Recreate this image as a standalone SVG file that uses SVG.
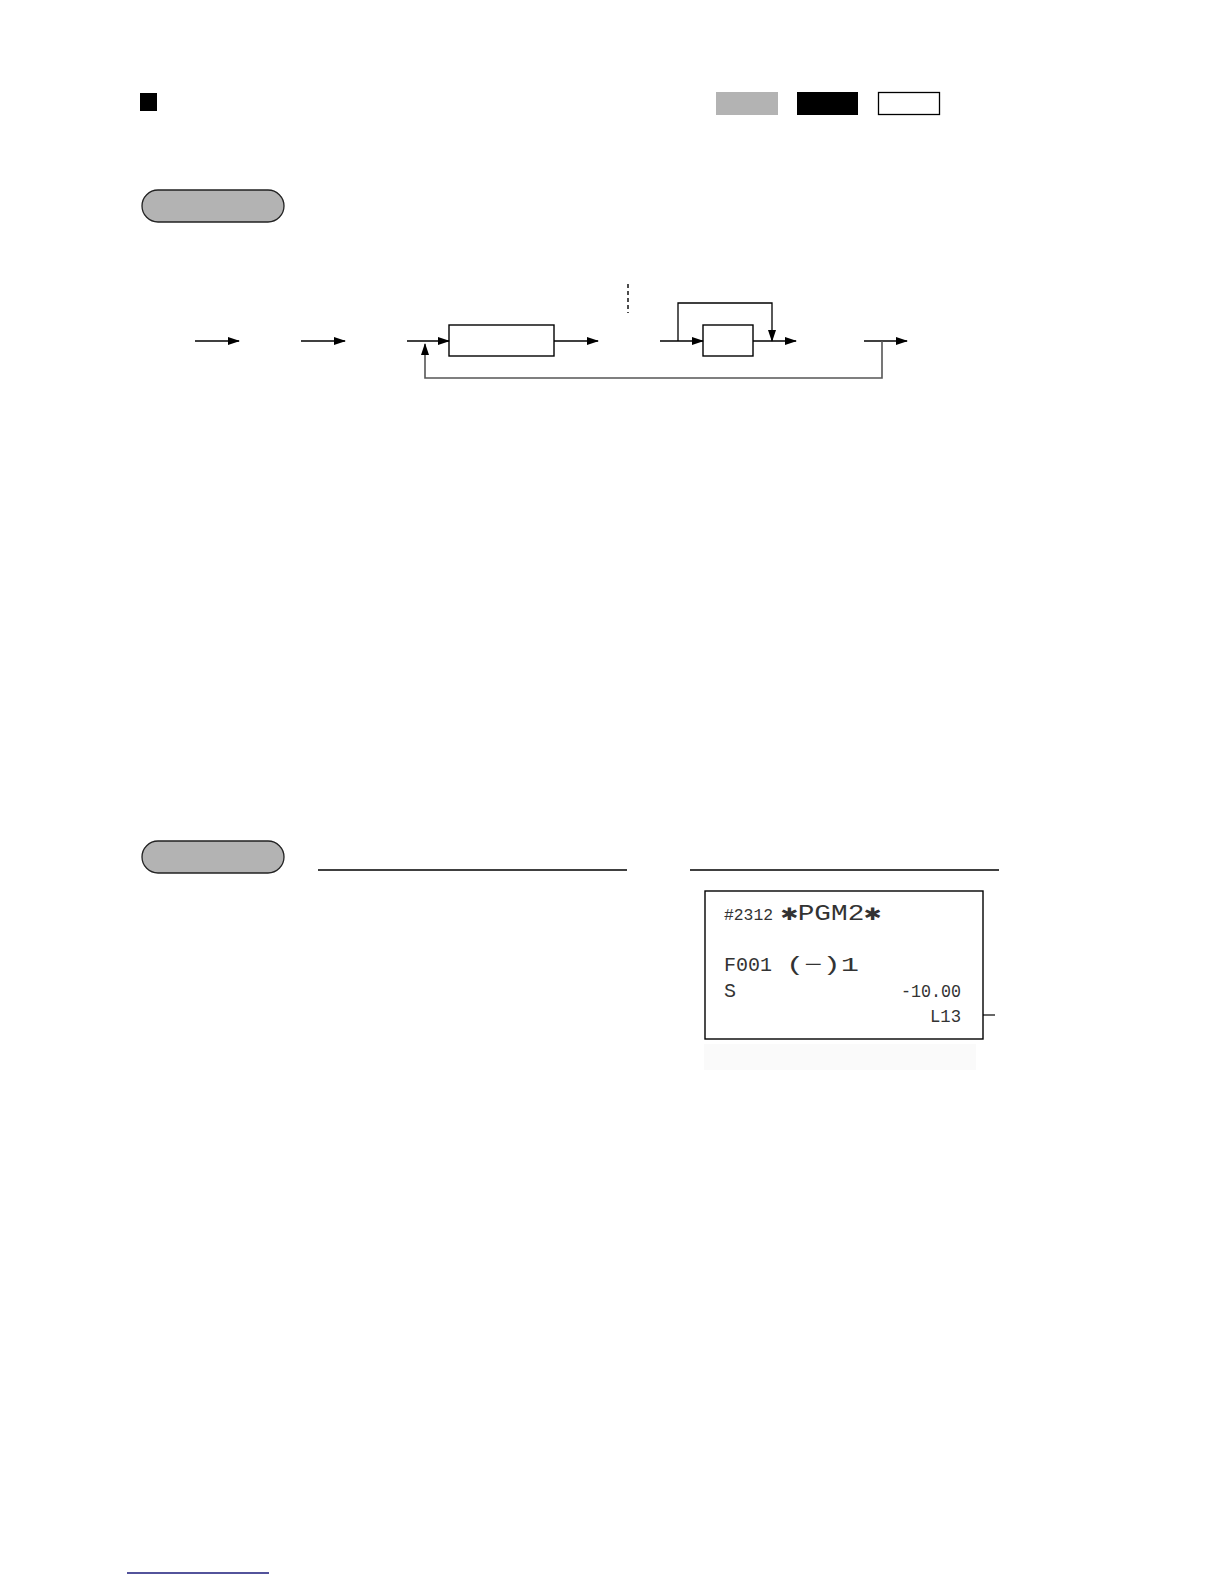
<svg xmlns="http://www.w3.org/2000/svg" width="1224" height="1584" viewBox="0 0 1224 1584">
<style>
.ln{stroke:#000;stroke-width:1.3;fill:none}
.fb{stroke:#555;stroke-width:1.6;fill:none}
.box{fill:#fff;stroke:#000;stroke-width:1.4}
.pill{fill:#b3b3b3;stroke:#222;stroke-width:1.3}
.rc{font-family:"Liberation Mono",monospace;fill:#333}
</style>
<defs>
<marker id="ah" markerWidth="12" markerHeight="8" refX="11" refY="4" orient="auto" markerUnits="userSpaceOnUse">
<path d="M0,0 L12,4 L0,8 Z" fill="#000"/>
</marker>
</defs>
<rect width="1224" height="1584" fill="#fff"/>

<g id="header">
<rect x="140" y="93" width="17" height="18" fill="#000"/>
<rect x="716" y="92" width="62" height="23" fill="#b3b3b3"/>
<rect x="797" y="92" width="61" height="23" fill="#000"/>
<rect x="878.5" y="92.5" width="61" height="22" fill="#fff" stroke="#000" stroke-width="1.3"/>
</g>

<g id="pill1"><rect class="pill" x="142" y="190" width="142" height="32" rx="16"/></g>
<g id="pill2"><rect class="pill" x="142" y="841" width="142" height="32" rx="16"/></g>

<g id="box1"><rect class="box" x="449" y="325" width="105" height="31"/></g>
<g id="box2"><rect class="box" x="703" y="325" width="50" height="31"/></g>

<g id="connectors">
<line class="ln" x1="195" y1="341" x2="239" y2="341" marker-end="url(#ah)"/>
<line class="ln" x1="301" y1="341" x2="345" y2="341" marker-end="url(#ah)"/>
<line class="ln" x1="407" y1="341" x2="449" y2="341" marker-end="url(#ah)"/>
<line class="ln" x1="554" y1="341" x2="598" y2="341" marker-end="url(#ah)"/>
<line x1="628" y1="284" x2="628" y2="313" stroke="#000" stroke-width="1.4" stroke-dasharray="4,3"/>
<line class="ln" x1="660" y1="341" x2="703" y2="341" marker-end="url(#ah)"/>
<polyline class="ln" points="678,341 678,303 772,303 772,341" marker-end="url(#ah)"/>
<line class="ln" x1="753" y1="341" x2="796" y2="341" marker-end="url(#ah)"/>
<line class="ln" x1="864" y1="341" x2="907" y2="341" marker-end="url(#ah)"/>
<polyline class="fb" points="882,341 882,378 425,378 425,344" marker-end="url(#ah)"/>
<line x1="318" y1="870" x2="627" y2="870" stroke="#000" stroke-width="1.3"/>
<line x1="690" y1="870" x2="999" y2="870" stroke="#000" stroke-width="1.3"/>
<line x1="971" y1="1015" x2="995" y2="1015" stroke="#000" stroke-width="1.2"/>
</g>

<g id="receipt">
<rect x="705" y="891" width="278" height="148" fill="#fff" stroke="#000" stroke-width="1.4"/>
<rect x="704" y="1044" width="272" height="26" fill="#fafafa"/>
<text class="rc" x="724" y="920" font-size="17" textLength="49" lengthAdjust="spacingAndGlyphs">#2312</text>
<text class="rc" x="781" y="920" font-size="22" textLength="100" lengthAdjust="spacingAndGlyphs">✱PGM2✱</text>
<text class="rc" x="724" y="971" font-size="20" textLength="48" lengthAdjust="spacingAndGlyphs">F001</text>
<text class="rc" x="786" y="971" font-size="20" textLength="73" lengthAdjust="spacingAndGlyphs">(−)1</text>
<text class="rc" x="724" y="997" font-size="20">S</text>
<text class="rc" x="961" y="997" font-size="18" text-anchor="end" textLength="60" lengthAdjust="spacingAndGlyphs">-10.00</text>
<text class="rc" x="961" y="1022" font-size="18" text-anchor="end" textLength="31" lengthAdjust="spacingAndGlyphs">L13</text>
</g>

<g id="footer"><line x1="127" y1="1573" x2="269" y2="1573" stroke="#1a1a7a" stroke-width="1.5"/></g>
</svg>
